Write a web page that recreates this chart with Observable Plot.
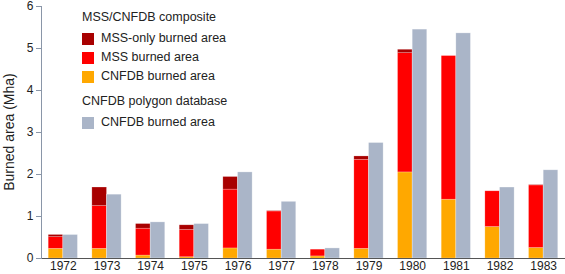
<!DOCTYPE html>
<html>
<head>
<meta charset="utf-8">
<script src="https://cdn.jsdelivr.net/npm/d3@7"></script>
<script src="https://cdn.jsdelivr.net/npm/@observablehq/plot@0.6"></script>
<style>
  html, body { margin: 0; padding: 0; background: #fff; }
  #wrap { position: relative; width: 565px; height: 274px; font-family: "Liberation Sans", Arial, sans-serif; color: #222; }
  #wrap svg text { font-size: 12px !important; }
  #wrap svg text.ylab { font-size: 14px !important; }
  #legend { position: absolute; left: 82px; top: 8px; font-size: 12.5px; line-height: 19px; }
  #legend .head { margin-bottom: 2px; }
  #legend .row { display: flex; align-items: center; }
  #legend .sw { width: 12px; height: 12px; margin-right: 7px; }
  #legend .gap { height: 6px; }
</style>
</head>
<body>
<div id="wrap"></div>
<script>
const years = ["1972","1973","1974","1975","1976","1977","1978","1979","1980","1981","1982","1983"];
// MSS/CNFDB composite segments (Mha)
const cnfdbInComposite = [0.23, 0.23, 0.07, 0.03, 0.24, 0.21, 0.05, 0.23, 2.05, 1.40, 0.75, 0.25];
const mssBurned        = [0.28, 1.02, 0.64, 0.65, 1.40, 0.91, 0.16, 2.12, 2.84, 3.42, 0.85, 1.49];
const mssOnlyBurned    = [0.05, 0.44, 0.11, 0.11, 0.30, 0.01, 0.00, 0.08, 0.08, 0.00, 0.00, 0.01];
// CNFDB polygon database (Mha)
const cnfdbPolygon     = [0.56, 1.52, 0.86, 0.82, 2.05, 1.35, 0.24, 2.75, 5.45, 5.36, 1.69, 2.10];
const yTicks = [0, 1, 2, 3, 4, 5, 6];

const seriesNames = ["CNFDB burned area", "MSS burned area", "MSS-only burned area"];
const seriesColors = ["#ffa800", "#ff0000", "#a80000"];
const polygonColor = "#aab5c8";

const composite = [];
years.forEach((y, i) => {
  composite.push({year: y, series: seriesNames[0], value: cnfdbInComposite[i]});
  composite.push({year: y, series: seriesNames[1], value: mssBurned[i]});
  composite.push({year: y, series: seriesNames[2], value: mssOnlyBurned[i]});
});
const polygon = years.map((y, i) => ({year: y, value: cnfdbPolygon[i]}));

const W = 565, H = 274, mL = 41, mR = 0, mT = 6, mB = 16;
const pInner = 0.33, pOuter = 0.165;
const step = (W - mL - mR) / (years.length - pInner + 2 * pOuter);
const half = step * (1 - pInner) / 2;

const chart = Plot.plot({
  width: W, height: H,
  marginLeft: mL, marginRight: mR, marginTop: mT, marginBottom: mB,
  style: {fontFamily: '"Liberation Sans", Arial, sans-serif', fontSize: "12px", color: "#222", background: "#fff"},
  x: {domain: years, paddingInner: pInner, paddingOuter: pOuter, round: false, label: null},
  y: {domain: [0, 6], label: null},
  color: {domain: seriesNames, range: seriesColors},
  marks: [
    Plot.barY(composite, Plot.stackY({order: seriesNames}, {x: "year", y: "value", fill: "series", insetRight: half, insetLeft: 0, stroke: "#fff", strokeOpacity: 0.35, strokeWidth: 0.6})),
    Plot.barY(polygon, {x: "year", y: "value", fill: polygonColor, insetLeft: half, insetRight: 0, stroke: "#fff", strokeOpacity: 0.5, strokeWidth: 0.6}),
    Plot.ruleY([0], {stroke: "#555", strokeWidth: 1}),
    Plot.axisX({tickSize: 0, tickPadding: 3, label: null}),
    Plot.axisY({ticks: yTicks, tickFormat: "d", tickSize: 5, tickPadding: 3, label: null, stroke: "#8a96a8"}),
    Plot.frame({anchor: "left", stroke: "#8a96a8"})
  ]
});

const wrap = document.getElementById("wrap");
wrap.appendChild(chart);

// Y axis title
const svg = d3.select(chart);
svg.append("text")
  .attr("class", "ylab")
  .attr("transform", `translate(14,${mT + (H - mT - mB) / 2}) rotate(-90)`)
  .attr("text-anchor", "middle")
  .attr("fill", "#222")
  .text("Burned area (Mha)");

// Legend
const legend = document.createElement("div");
legend.id = "legend";
const legendItems = [
  {head: "MSS/CNFDB composite"},
  {name: "MSS-only burned area", color: seriesColors[2]},
  {name: "MSS burned area", color: seriesColors[1]},
  {name: "CNFDB burned area", color: seriesColors[0]},
  {gap: true},
  {head: "CNFDB polygon database"},
  {name: "CNFDB burned area", color: polygonColor}
];
legendItems.forEach(it => {
  const d = document.createElement("div");
  if (it.head) { d.className = "head"; d.textContent = it.head; }
  else if (it.gap) { d.className = "gap"; }
  else {
    d.className = "row";
    const s = document.createElement("span");
    s.className = "sw"; s.style.background = it.color;
    const t = document.createElement("span");
    t.textContent = it.name;
    d.appendChild(s); d.appendChild(t);
  }
  legend.appendChild(d);
});
wrap.appendChild(legend);
</script>
</body>
</html>
